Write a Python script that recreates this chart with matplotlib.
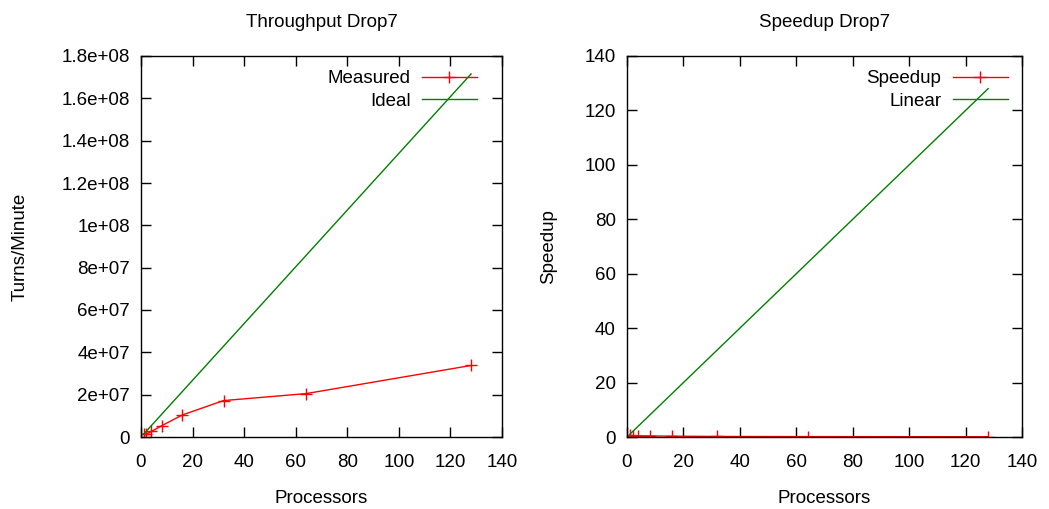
import matplotlib
matplotlib.use("Agg")
import matplotlib.pyplot as plt
from matplotlib.ticker import FuncFormatter, MultipleLocator

plt.rcParams['font.family'] = ['Liberation Sans', 'DejaVu Sans']

# data
processors = [1, 2, 4, 8, 16, 32, 64, 128]
measured = [1.34e6, 1.4e6, 2.6e6, 5.3e6, 10.4e6, 17.2e6, 20.5e6, 33.8e6]
ideal = [1.34e6 * p for p in processors]
speedup = [0.6, 0.5, 0.45, 0.4, 0.3, 0.2, 0.15, 0.1]
linear = [float(p) for p in processors]

RED = "#ff0000"
GREEN = "#008000"
FS = 13.5

fig = plt.figure(figsize=(10.49, 5.09), dpi=100)
ax1 = fig.add_axes([141 / 1049, 72 / 509, 361 / 1049, 381 / 509])
ax2 = fig.add_axes([627 / 1049, 72 / 509, 395 / 1049, 381 / 509])


def style(ax):
    ax.set_xlim(0, 140)
    ax.xaxis.set_major_locator(MultipleLocator(20))
    ax.tick_params(direction="in", length=7, width=1, top=True, right=True,
                   labelsize=FS, pad=8)
    ax.tick_params(axis="x", pad=12)
    for s in ax.spines.values():
        s.set_linewidth(1)
    ax.set_xlabel("Processors", fontsize=FS, labelpad=14)


def legend(ax, dx_px, dy_px, w_px):
    # gnuplot-like key: text first, sample after, anchored by pixel offsets
    ax.legend(loc="upper right", frameon=False, markerfirst=False, fontsize=FS,
              handlelength=2.95, handletextpad=0.6, borderaxespad=0,
              labelspacing=0.3,
              bbox_to_anchor=(1 - dx_px / w_px, 1 - dy_px / 381))


# --- throughput
ax1.plot(processors, measured, color=RED, lw=1, marker="+", ms=9, mew=1,
         label="Measured")
ax1.plot(processors, ideal, color=GREEN, lw=1, label="Ideal")
style(ax1)
ax1.set_ylim(0, 1.8e8)
ax1.yaxis.set_major_locator(MultipleLocator(2e7))
ax1.yaxis.set_major_formatter(FuncFormatter(lambda v, p: "%g" % v))
ax1.set_ylabel("Turns/Minute", fontsize=FS, labelpad=24)
ax1.set_title("Throughput Drop7", fontsize=FS, pad=21)
legend(ax1, 17.5, 6.5, 361)

# --- speedup
ax2.plot(processors, speedup, color=RED, lw=1, marker="+", ms=9, mew=1,
         label="Speedup")
ax2.plot(processors, linear, color=GREEN, lw=1, label="Linear")
style(ax2)
ax2.set_ylim(0, 140)
ax2.yaxis.set_major_locator(MultipleLocator(20))
ax2.set_ylabel("Speedup", fontsize=FS, labelpad=20)
ax2.set_title("Speedup Drop7", fontsize=FS, pad=21)
legend(ax2, 6.5, 6.5, 395)

fig.savefig("out.png", dpi=100)
